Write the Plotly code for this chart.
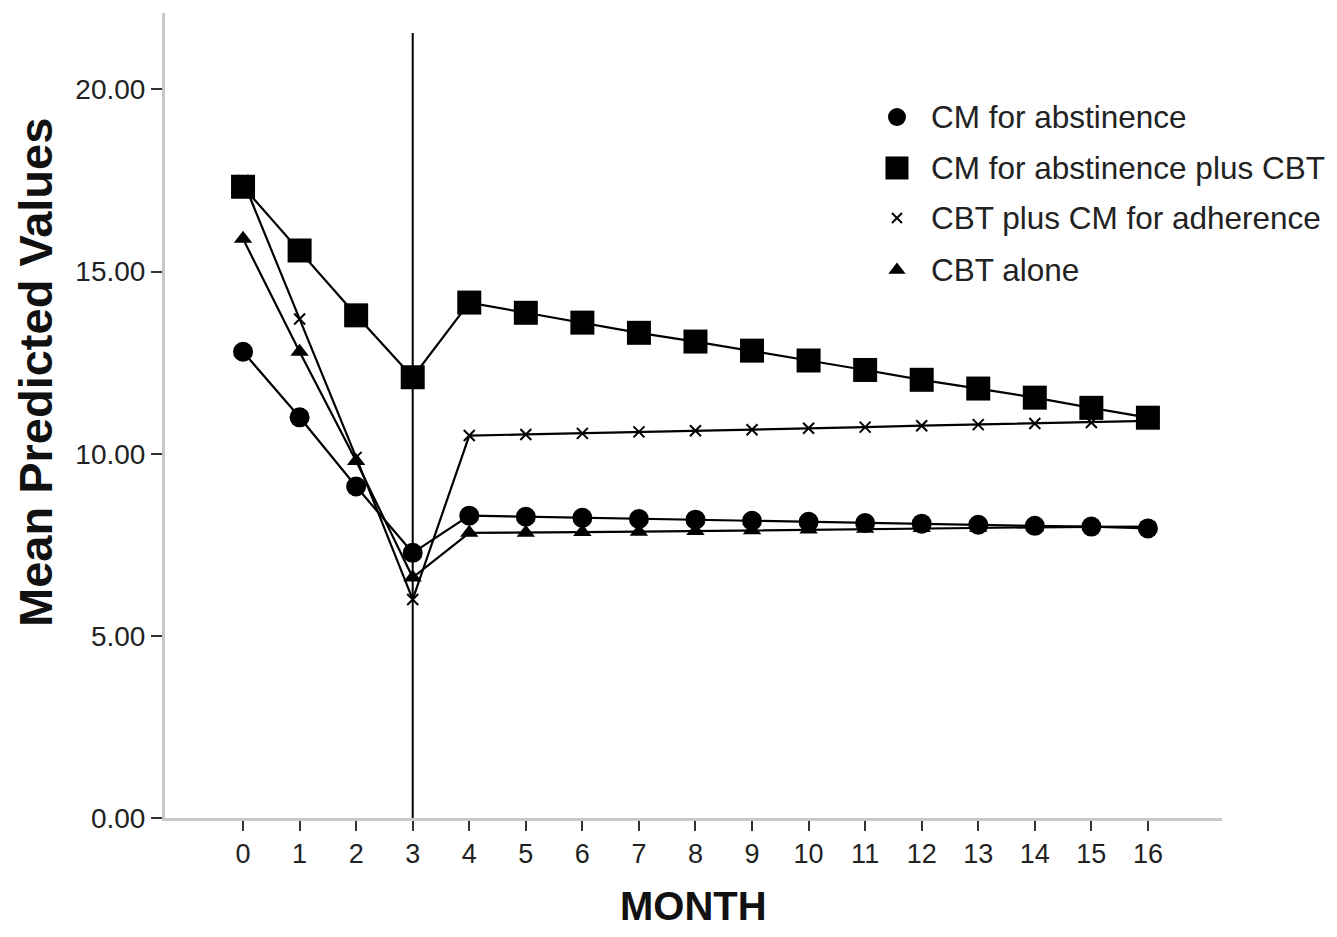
import plotly.graph_objects as go

months = list(range(17))
month_labels = [str(m) for m in months]

cm_abstinence = [12.80, 11.00, 9.10, 7.28, 8.30, 8.27, 8.24, 8.21, 8.19, 8.16, 8.13, 8.10, 8.08, 8.05, 8.02, 8.00, 7.95]
cm_abst_cbt = [17.33, 15.58, 13.80, 12.10, 14.15, 13.87, 13.60, 13.32, 13.08, 12.83, 12.56, 12.30, 12.03, 11.79, 11.54, 11.26, 10.99]
cbt_cm_adherence = [17.50, 13.70, 9.90, 6.00, 10.50, 10.53, 10.56, 10.60, 10.63, 10.66, 10.70, 10.73, 10.77, 10.80, 10.83, 10.86, 10.90]
cbt_alone = [15.90, 12.80, 9.80, 6.60, 7.83, 7.83, 7.85, 7.86, 7.88, 7.90, 7.92, 7.94, 7.96, 7.97, 7.98, 7.99, 8.00]

y_ticks = [0, 5, 10, 15, 20]
y_tick_labels = ["0.00", "5.00", "10.00", "15.00", "20.00"]

series_names = ["CM for abstinence", "CM for abstinence plus CBT",
                "CBT plus CM for adherence", "CBT alone"]
series_values = [cm_abstinence, cm_abst_cbt, cbt_cm_adherence, cbt_alone]
symbols = ["circle", "square", "x-thin", "triangle-up"]
marker_sizes = [20, 24, 11, 16]
legend_marker_sizes = [18, 23, 10, 15]

# legend layout (fractions of the plot area)
legend_marker_x = 0.6925
legend_text_x = 0.7228
legend_rows_y = [0.8708, 0.8075, 0.7453, 0.6807]

fig = go.Figure()
for name, vals, sym, size in zip(series_names, series_values, symbols, marker_sizes):
    fig.add_trace(go.Scatter(
        x=months, y=vals, mode="lines+markers", name=name, showlegend=False,
        line=dict(color="black", width=2.2),
        marker=dict(symbol=sym, size=size, color="black",
                    line=dict(color="black", width=2 if sym == "x-thin" else 0)),
    ))

# legend markers on a hidden overlay axis pair (0..1 over the plot area)
for name, sym, size, ry in zip(series_names, symbols, legend_marker_sizes, legend_rows_y):
    fig.add_trace(go.Scatter(
        x=[legend_marker_x], y=[ry], xaxis="x2", yaxis="y2", mode="markers",
        showlegend=False, hoverinfo="skip", cliponaxis=False,
        marker=dict(symbol=sym, size=size, color="black",
                    line=dict(color="black", width=2 if sym == "x-thin" else 0)),
    ))

fig.add_shape(type="line", xref="x", yref="y", x0=3, x1=3, y0=0, y1=21.55,
              line=dict(color="black", width=2))

annotations = [
    dict(text="<b>Mean Predicted Values</b>", textangle=-90, xref="paper", yref="paper",
         x=-0.123, y=0.554, xanchor="center", yanchor="middle", showarrow=False,
         font=dict(size=47, color="#111")),
    dict(text="<b>MONTH</b>", xref="paper", yref="paper",
         x=0.5, y=-0.1093, xanchor="center", yanchor="middle", showarrow=False,
         font=dict(size=40, color="#111")),
]
for name, ry in zip(series_names, legend_rows_y):
    annotations.append(dict(
        text=name, xref="paper", yref="paper", x=legend_text_x, y=ry,
        xanchor="left", yanchor="middle", showarrow=False,
        font=dict(size=31.5, color="#222")))

# the page body adds an 8px margin; the figure is sized so no scrollbars appear
fig.update_layout(
    width=1321, height=921,
    margin=dict(l=157, r=107, t=5, b=111),
    plot_bgcolor="white", paper_bgcolor="white",
    font=dict(family="Liberation Sans, Arial, sans-serif", color="black"),
    showlegend=False,
    annotations=annotations,
    xaxis2=dict(overlaying="x", range=[0, 1], visible=False, fixedrange=True),
    yaxis2=dict(overlaying="y", range=[0, 1], visible=False, fixedrange=True),
)
fig.update_layout(
    xaxis=dict(
        range=[-1.38, 17.31], tickmode="array", tickvals=months, ticktext=month_labels,
        ticks="outside", ticklen=10, tickwidth=2, tickcolor="#333", automargin=False,
        showline=True, linecolor="#c8c8c8", linewidth=3, showgrid=False, zeroline=False,
        tickfont=dict(size=27, color="#222"),
    ),
    yaxis=dict(
        range=[0, 22.1], tickmode="array", tickvals=y_ticks, ticktext=y_tick_labels,
        ticks="outside", ticklen=11, tickwidth=2, tickcolor="#333", automargin=False,
        showline=True, linecolor="#c8c8c8", linewidth=3, showgrid=False, zeroline=False,
        tickfont=dict(size=28, color="#222"),
    ),
)

fig.write_html("out.html")
